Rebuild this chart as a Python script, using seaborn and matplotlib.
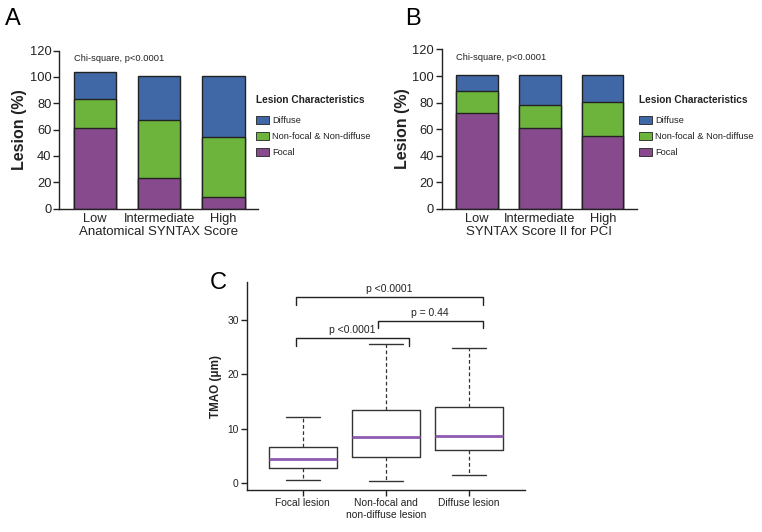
import numpy as np
import pandas as pd
import matplotlib
matplotlib.use("Agg")
import matplotlib.pyplot as plt
import seaborn as sns
from matplotlib.patches import Patch

sns.set_style("ticks")
plt.rcParams['font.family'] = ['Liberation Sans', 'DejaVu Sans']

# ---- data ----
score_levels = ["Low", "Intermediate", "High"]
lesion_types = ["Diffuse", "Non-focal & Non-diffuse", "Focal"]

# panel A: Anatomical SYNTAX Score (%)
a_focal = [61, 23, 9]
a_nonfocal = [22.5, 44.5, 45.5]
a_diffuse = [20, 33, 46]

# panel B: SYNTAX Score II for PCI (%)
b_focal = [72.5, 61, 54.5]
b_nonfocal = [16, 17, 26]
b_diffuse = [12.5, 22.5, 20.5]

# panel C: TMAO box stats (min, Q1, median, Q3, max)
c_groups = ["Focal lesion", "Non-focal and\nnon-diffuse lesion", "Diffuse lesion"]
c_focal = [0.5, 2.8, 4.5, 6.6, 12.2]
c_nonfocal = [0.4, 4.7, 8.4, 13.4, 25.5]
c_diffuse = [1.5, 6.1, 8.6, 13.9, 24.8]

bracket_x0 = [-0.08, 0.9, -0.08]
bracket_x1 = [1.28, 2.16, 2.16]
bracket_y = [26.7, 29.9, 34.2]
bracket_txt = ["p <0.0001", "p = 0.44", "p <0.0001"]

COLORS = {"Diffuse": "#4068a6", "Non-focal & Non-diffuse": "#6cb43c", "Focal": "#874a8c"}
INK = "#222222"

W, H = 762, 532
fig = plt.figure(figsize=(W / 100, H / 100), dpi=100)


def px_axes(x0, y0, x1, y1):
    # pixel box (left, top, right, bottom) -> figure axes
    return fig.add_axes([x0 / W, 1 - y1 / H, (x1 - x0) / W, (y1 - y0) / H])


def stacked_panel(ax, focal, nonfocal, diffuse, xlabel, letter_xy, lx):
    df = pd.DataFrame({"level": score_levels, "Focal": focal,
                       "Non-focal & Non-diffuse": nonfocal, "Diffuse": diffuse})
    df["top2"] = df["Focal"] + df["Non-focal & Non-diffuse"]
    df["top3"] = df["top2"] + df["Diffuse"]
    for col, name in [("top3", "Diffuse"), ("top2", "Non-focal & Non-diffuse"), ("Focal", "Focal")]:
        sns.barplot(data=df, x="level", y=col, color=COLORS[name], width=0.66,
                    edgecolor=INK, linewidth=1.0, saturation=1, ax=ax)
    ax.set_ylim(0, 120)
    ax.set_yticks(range(0, 121, 20))
    ax.set_xlim(-0.56, 2.54)
    ax.set_xlabel(xlabel, fontsize=9.5, color=INK, labelpad=1)
    ax.set_ylabel("Lesion (%)", fontsize=11.5, fontweight="bold", color=INK, labelpad=2)
    ax.tick_params(axis="y", length=4, width=1, pad=1.5, labelsize=9.3, colors=INK)
    ax.tick_params(axis="x", length=0, pad=3, labelsize=9.3, colors=INK)
    for s in ["left", "bottom"]:
        ax.spines[s].set_color(INK)
        ax.spines[s].set_linewidth(1)
    sns.despine(ax=ax)
    ax.text(-0.33, 114, "Chi-square, p<0.0001", fontsize=6.7, color=INK, va="center")
    fig.text(letter_xy[0] / W, 1 - letter_xy[1] / H, letter_xy[2], fontsize=17, color="black",
             va="center", ha="left")
    fig.text(lx / W, 1 - 100 / H, "Lesion Characteristics", fontsize=7.3,
             fontweight="bold", color=INK, va="center", ha="left")
    handles = [Patch(facecolor=COLORS[n], edgecolor=INK, linewidth=0.6) for n in lesion_types]
    leg = fig.legend(handles, lesion_types, loc="upper left",
                     bbox_to_anchor=(lx / W, 1 - 115.8 / H), frameon=False,
                     fontsize=6.7, handlelength=1.4, handleheight=0.9, handletextpad=0.3,
                     labelspacing=0.76, borderpad=0, borderaxespad=0)
    for t in leg.get_texts():
        t.set_color(INK)


axA = px_axes(59.3, 50.5, 258, 208.7)
stacked_panel(axA, a_focal, a_nonfocal, a_diffuse, "Anatomical SYNTAX Score", (5, 19, "A"), 256)

axB = px_axes(441.7, 49.5, 636.7, 208.7)
stacked_panel(axB, b_focal, b_nonfocal, b_diffuse, "SYNTAX Score II for PCI", (405, 19, "B"), 639)

# ---- panel C ----
axC = px_axes(247, 282, 525, 490)
box_df = pd.DataFrame({
    "group": np.repeat(c_groups, 5),
    "value": c_focal + c_nonfocal + c_diffuse,
})
sns.boxplot(data=box_df, x="group", y="value", whis=(0, 100), width=0.82,
            fill=False, color="#333333", linewidth=1.0, ax=axC,
            medianprops={"color": "#8e5bb0", "linewidth": 2.0},
            whiskerprops={"linestyle": (0, (3, 2)), "linewidth": 0.9},
            capprops={"linewidth": 1.0}, showfliers=False)
axC.set_ylim(-1.3, 37)
axC.set_xlim(-0.67, 2.67)
axC.set_yticks([0, 10, 20, 30])
axC.set_xlabel("")
axC.set_ylabel("TMAO (\u03bcm)", fontsize=8.4, fontweight="bold", color=INK, labelpad=4)
axC.tick_params(axis="both", length=4, width=1, labelsize=7.4, colors=INK, pad=2)
for s in ["left", "bottom"]:
    axC.spines[s].set_color(INK)
    axC.spines[s].set_linewidth(1)
sns.despine(ax=axC)

for x0, x1, y, txt in zip(bracket_x0, bracket_x1, bracket_y, bracket_txt):
    axC.plot([x0, x0, x1, x1], [y - 1.4, y, y, y - 1.4], color=INK, linewidth=1.0,
             clip_on=False)
    axC.text((x0 + x1) / 2, y + 0.5, txt, ha="center", va="bottom", fontsize=7.5, color=INK)

fig.text(210 / W, 1 - 283 / H, "C", fontsize=17, color="black", va="center", ha="left")

fig.savefig("out.png", dpi=100)
